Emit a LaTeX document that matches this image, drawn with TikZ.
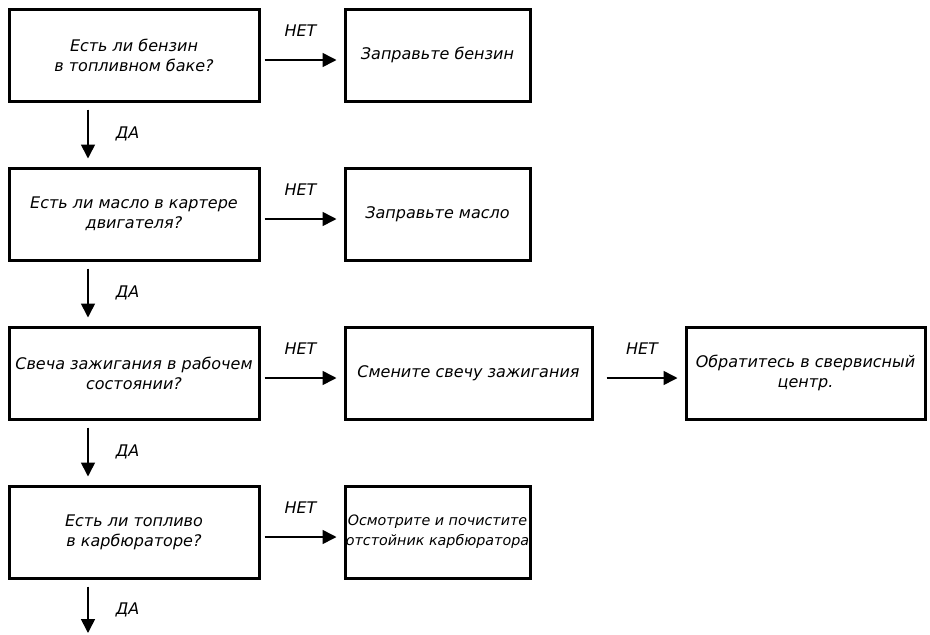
\documentclass[tikz,border=0pt]{standalone}
\usepackage{fontspec}
\setmainfont{DejaVu Sans}
\usetikzlibrary{arrows.meta,calc}
\begin{document}
\begin{tikzpicture}[x=1pt,y=-1pt,
  box/.style={draw, line width=3pt, rectangle, minimum height=92pt, inner sep=0pt, align=center,
     font=\fontsize{16}{20}\selectfont\itshape},
  arr/.style={line width=1.6pt, -{Triangle[length=14pt,width=14pt]}},
  lbl/.style={font=\fontsize{16}{18}\selectfont\itshape, inner sep=0pt}]
\useasboundingbox (0,0) rectangle (930,635);
% left column
\node[box, minimum width=250pt] (q1) at (134,55) {Есть ли бензин\\в топливном баке?};
\node[box, minimum width=250pt] (q2) at (134,214) {Есть ли масло в картере\\двигателя?};
\node[box, minimum width=250pt] (q3) at (134,373) {Свеча зажигания в рабочем\\состоянии?};
\node[box, minimum width=250pt] (q4) at (134,532) {Есть ли топливо\\в карбюраторе?};
% middle column
\node[box, minimum width=185pt] (a1) at (437.5,55) {Заправьте бензин};
\node[box, minimum width=185pt] (a2) at (437.5,214) {Заправьте масло};
\node[box, minimum width=247pt] (a3) at (468.5,373) {Смените свечу зажигания};
\node[box, minimum width=185pt, font=\fontsize{14.3}{20}\selectfont\itshape] (a4) at (437.5,532) {Осмотрите и почистите\\отстойник карбюратора};
% right
\node[box, minimum width=239pt] (s3) at (805.5,373) {Обратитесь в свервисный\\центр.};
\coordinate (end) at (88,633);
% horizontal arrows
\foreach \q/\a in {q1/a1,q2/a2,q3/a3,q4/a4}{
  \draw[arr] ([shift={(4,5)}]\q.east) -- node[lbl, above=23pt] {НЕТ} ([shift={(-7,5)}]\a.west);
}
\draw[arr] ([shift={(13,5)}]a3.east) -- node[lbl, above=23pt] {НЕТ} ([shift={(-7,5)}]s3.west);
% vertical arrows
\foreach \q/\n in {q1/q2,q2/q3,q3/q4}{
  \draw[arr] ([shift={(-46,7)}]\q.south) -- node[lbl, right=27pt] {ДА} ([shift={(-46,-8)}]\n.north);
}
\draw[arr] ([shift={(-46,7)}]q4.south) -- node[lbl, right=27pt] {ДА} (end);
\end{tikzpicture}
\end{document}
